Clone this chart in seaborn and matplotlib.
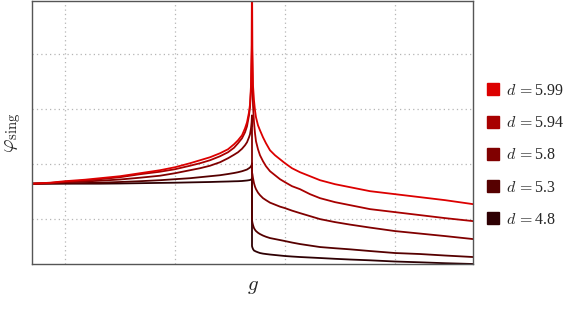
import pandas as pd
import seaborn as sns
import matplotlib.pyplot as plt
from matplotlib.lines import Line2D

# valeurs (unites arbitraires, axes sans graduations)
# g mesure depuis le point singulier g_c = 0
g_left = [-220, -202, -187, -167, -152, -132, -112, -92, -77, -62, -52, -42,
          -32, -24, -18, -14, -10, -7, -5, -3, -2, -1, -0.4, 0]
g_right = [0, 0.4, 1, 2, 3, 4, 6, 8, 11, 14, 18, 23, 28, 33, 40, 48, 58, 68,
           83, 98, 118, 143, 168, 193, 221]

d_values = ['4.8', '5.3', '5.8', '5.94', '5.99']
colors = ['#2e0003', '#560000', '#800000', '#a80000', '#dc0000']

phi_left = {
    '5.99': [80.5, 81.5, 83, 84.5, 86, 88, 91, 94, 97, 101, 104, 107,
             111, 115, 120, 124, 129, 136, 142, 152, 160, 179, 214, 294],
    '5.94': [80.5, 81.2, 82.5, 83.7, 85, 87, 90, 92.5, 95, 98.5, 101, 104,
             108, 112, 116.5, 121, 126, 132, 138, 149, 157, 174, 204, 224],
    '5.8':  [80.5, 81, 82, 82.7, 83.5, 84.7, 86.5, 88.5, 91, 94, 96, 98.5,
             102, 106, 109.5, 112, 115.5, 119, 122, 127, 130, 136, 142, 149],
    '5.3':  [80.5, 80.7, 81, 81.2, 81.5, 82.2, 83, 84, 85, 86, 87, 88,
             89, 90.2, 91.2, 92, 93, 94, 94.7, 96, 96.7, 98, 99, 101],
    '4.8':  [80.5, 80.5, 80.5, 80.5, 80.5, 80.7, 81, 81.3, 81.5, 81.8, 82, 82.2,
             82.5, 82.7, 82.9, 83, 83.2, 83.5, 83.7, 84, 84.2, 84.5, 85, 86],
}
phi_right = {
    '5.99': [294, 214, 179, 164, 154, 147, 139, 134, 127, 121, 114, 109, 105,
             101, 96, 92, 88, 84, 80, 77, 73, 70, 67, 64, 60],
    '5.94': [224, 194, 159, 142, 131, 123, 115, 109, 103, 98, 93, 89, 85,
             82, 78, 75, 70, 66, 62, 59, 55, 52, 49, 46, 43],
    '5.8':  [92, 90, 86, 81, 77.5, 75, 71.5, 69, 66, 64, 61.5, 59.5, 57.5,
             56, 53.5, 51, 48, 45, 42, 39.5, 36.5, 33, 30.5, 28, 25],
    '5.3':  [44, 41.5, 39, 36, 34.3, 33, 31.3, 30, 28.5, 27.3, 26, 25, 24,
             23, 21.5, 20, 18.5, 17, 15.8, 14.7, 13, 11, 10, 8.5, 7],
    '4.8':  [18, 16.5, 15, 13.5, 13, 12.5, 11.7, 11, 10.4, 10, 9.5, 9, 8.5,
             8, 7.5, 7, 6.5, 6, 5.2, 4.5, 3.7, 2.5, 1.7, 0.8, 0],
}

rows = []
for d in d_values:
    g = g_left + g_right
    phi = phi_left[d] + phi_right[d]
    for i in range(len(g)):
        rows.append({'g': g[i], 'phi': phi[i], 'd': d})
df = pd.DataFrame(rows)

sns.set_style('white')
plt.rcParams['mathtext.fontset'] = 'cm'

fig = plt.figure(figsize=(5.69, 3.14), dpi=100)
ax = fig.add_axes([32 / 569, 1 - 264 / 314, 441 / 569, 264 / 314 - 0.002])

sns.lineplot(data=df, x='g', y='phi', hue='d', hue_order=d_values, palette=colors,
             estimator=None, sort=False, units='d', linewidth=1.3, legend=False, ax=ax)

ax.set_xlim(-220, 221)
ax.set_ylim(0, 264)
ax.set_xticks([-187, -77, 33, 143])
ax.set_yticks([45, 100, 155, 210])
ax.set_xticklabels([])
ax.set_yticklabels([])
ax.tick_params(length=0)
ax.grid(True, linestyle=(0, (1, 2.5)), color='#b5b5b5', linewidth=0.9)
for s in ax.spines.values():
    s.set_color('#555555')
    s.set_linewidth(1.0)

ax.set_xlabel(r'$g$', fontsize=15, labelpad=5)
ax.set_ylabel(r'$\varphi_{\rm sing}$', fontsize=15, labelpad=3)

handles = [Line2D([], [], marker='s', linestyle='none', markersize=8, color=c,
                  markeredgecolor=c) for c in colors[::-1]]
labels = [r'$d\,=$' + d for d in d_values[::-1]]
leg = fig.legend(handles, labels, loc='center left', bbox_to_anchor=(472 / 569, 0.505),
                 frameon=False, labelspacing=1.02, handlelength=0.8, handletextpad=0.45,
                 prop={'family': 'Liberation Serif', 'size': 11.5})

fig.savefig('out.png', dpi=100)
